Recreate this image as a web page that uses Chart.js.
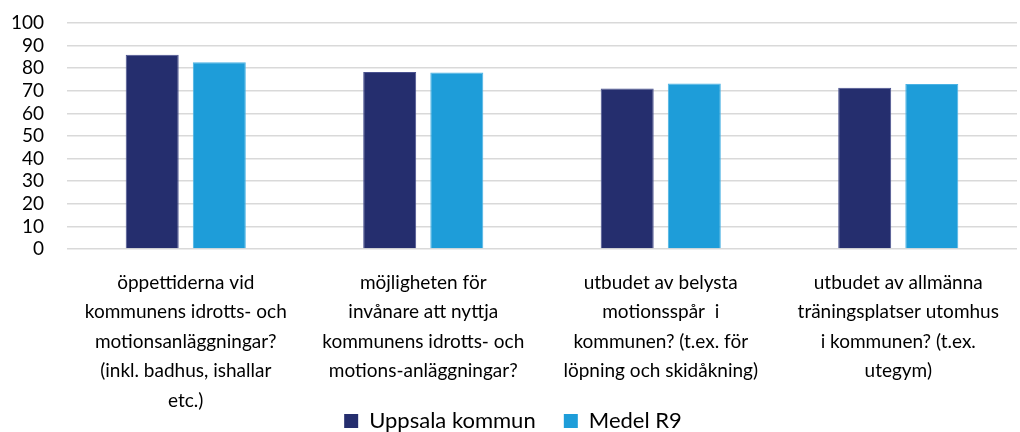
<!DOCTYPE html>
<html>
<head>
<meta charset="utf-8">
<script src="https://cdn.jsdelivr.net/npm/chart.js@4"></script>
<style>
  html, body { margin: 0; padding: 0; background: #fff; }
  #wrap { width: 1020px; height: 432px; }
</style>
</head>
<body>
<div id="wrap"><canvas id="chart"></canvas></div>
<script>
// categories (multi-line, as in the original)
const categories = [
    ["öppettiderna vid", "kommunens idrotts- och", "motionsanläggningar?", "(inkl. badhus, ishallar", "etc.)"],
    ["möjligheten för", "invånare att nyttja", "kommunens idrotts- och", "motions-anläggningar?"],
    ["utbudet av belysta", "motionsspår  i", "kommunen? (t.ex. för", "löpning och skidåkning)"],
    ["utbudet av allmänna", "träningsplatser utomhus", "i kommunen? (t.ex.", "utegym)"]
];
const uppsala = [86, 78.3, 71, 71.4];
const medelR9 = [82.6, 78.1, 73.2, 73];
const yTicks = [0, 10, 20, 30, 40, 50, 60, 70, 80, 90, 100];

const fontFamily = "Lato, 'Open Sans', sans-serif";

new Chart("chart", {
    type: "bar",
    data: {
        labels: categories,
        datasets: [{
            label: "Uppsala kommun",
            data: uppsala,
            backgroundColor: "#252e6e",
            borderColor: "#4a5290",
            borderWidth: 1
        }, {
            label: "Medel R9",
            data: medelR9,
            backgroundColor: "#1e9dd9",
            borderColor: "#4ab2e4",
            borderWidth: 1
        }]
    },
    options: {
        responsive: true,
        maintainAspectRatio: false,
        animation: false,
        layout: { padding: { top: 23, right: 3, left: 9, bottom: -10 } },
        datasets: {
            bar: { categoryPercentage: 0.565, barPercentage: 0.79 }
        },
        plugins: {
            legend: {
                position: "bottom",
                labels: {
                    boxWidth: 14,
                    boxHeight: 14,
                    padding: 0,
                    color: "#000",
                    font: { family: fontFamily, size: 22 },
                    // no padding row below, so the gap between items is made with spaces
                    generateLabels: function(chart) {
                        const items = Chart.defaults.plugins.legend.labels.generateLabels(chart);
                        items.forEach(function(it, i) {
                            if (i < items.length - 1) it.text = it.text + "\u00a0\u00a0\u00a0\u00a0\u00a0";
                            it.lineWidth = 0;
                        });
                        return items;
                    }
                }
            },
            tooltip: { enabled: false }
        },
        scales: {
            x: {
                grid: { display: false, drawTicks: false },
                border: { display: false },
                ticks: {
                    color: "#000",
                    maxRotation: 0,
                    autoSkip: false,
                    padding: 19,
                    font: { family: fontFamily, size: 19, lineHeight: 1.55 }
                },
                afterFit: function(axis) { axis.height = 161; }
            },
            y: {
                min: 0,
                max: 100,
                afterBuildTicks: function(axis) {
                    axis.ticks = yTicks.map(function(v) { return { value: v }; });
                },
                grid: { color: "#d9d9d9", lineWidth: 1.5, drawTicks: false },
                border: { display: false },
                ticks: {
                    color: "#000",
                    autoSkip: false,
                    padding: 23,
                    font: { family: fontFamily, size: 19 }
                },
                afterFit: function(axis) {
                    axis.width = 58;
                    // tick padding is otherwise added above the top gridline too
                    axis.paddingTop = 0;
                    axis.paddingBottom = 0;
                }
            }
        }
    }
});
</script>
</body>
</html>
